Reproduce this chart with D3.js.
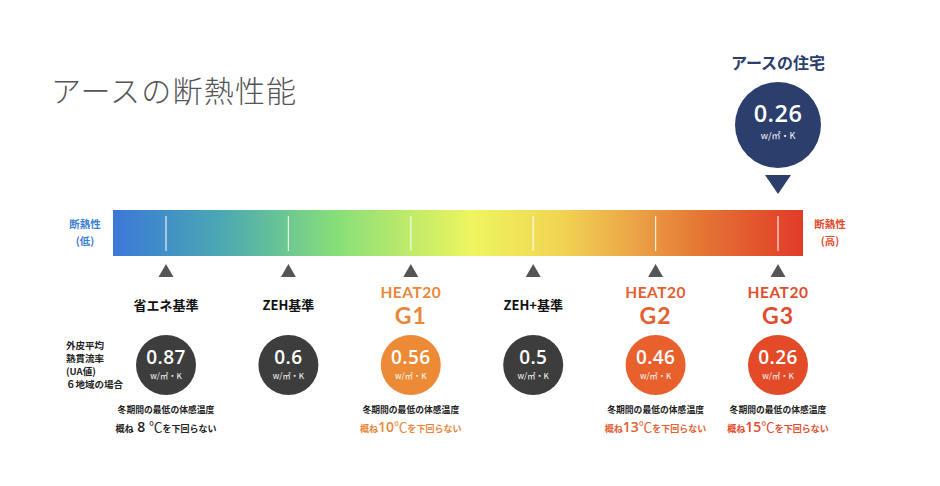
<!DOCTYPE html>
<html><head><meta charset="utf-8">
<script src="https://cdn.jsdelivr.net/npm/d3@7"></script>
<style>
body{margin:0;background:#fff;}
svg{display:block;font-family:"Noto Sans CJK JP","Noto Sans",sans-serif;}
</style></head>
<body>
<svg id="c" width="940" height="486"></svg>
<script>
// ---- data ----
const categories = ["省エネ基準","ZEH基準","HEAT20 G1","ZEH+基準","HEAT20 G2","HEAT20 G3"];
const labelTop   = ["","","HEAT20","","HEAT20","HEAT20"];
const labelMain  = ["省エネ基準","ZEH基準","G1","ZEH+基準","G2","G3"];
const uaValues   = [0.87, 0.6, 0.56, 0.5, 0.46, 0.26];
const minTemps   = [8, null, 10, null, 13, 15];
const earthValue = 0.26;
const earthIndex = 5;
const unitLabel  = "w/㎡・K";

// ---- styles ----
const kindColor = ["#3d3d3d","#3d3d3d","#ec8a36","#3d3d3d","#e8612d","#e34a27"];
const textColor = ["#222","#222","#e8873a","#222","#e3602f","#e04c2c"];
const latin = "Lato,'Open Sans',sans-serif";
const num = "'Open Sans',sans-serif";

const svg = d3.select("#c");
const barX0 = 113, barX1 = 803, barY = 210, barH = 46;
const x = d3.scalePoint().domain(categories).range([166, 778]);

// title
svg.append("text").attr("x",51).attr("y",102).attr("font-size",30).attr("fill","#555")
  .attr("font-weight",300).attr("letter-spacing",1.2).text("アースの断熱性能");

// gradient
const defs = svg.append("defs");
const grad = defs.append("linearGradient").attr("id","g").attr("x1","0%").attr("x2","100%");
const stops = [[0,"#3a78d8"],[0.16,"#4ba9b2"],[0.32,"#85de79"],[0.52,"#eef55e"],[0.65,"#f1d453"],[0.76,"#eba245"],[0.85,"#e57634"],[1,"#e13b28"]];
stops.forEach(s=>grad.append("stop").attr("offset",s[0]).attr("stop-color",s[1]));
svg.append("rect").attr("x",barX0).attr("y",barY).attr("width",barX1-barX0).attr("height",barH).attr("fill","url(#g)");

// tick lines on bar
svg.selectAll(".tk").data(categories).join("line")
  .attr("x1",d=>x(d)).attr("x2",d=>x(d)).attr("y1",barY+6).attr("y2",barY+barH-5)
  .attr("stroke","#fff").attr("stroke-opacity",0.85).attr("stroke-width",1.2);

// up triangles
svg.selectAll(".tri").data(categories).join("path")
  .attr("d",d=>`M${x(d)-7.5},277 L${x(d)+7.5},277 L${x(d)},264 Z`).attr("fill","#555");

// side labels
const side = (cx,lines,col)=>lines.forEach((t,i)=>svg.append("text").attr("x",cx).attr("y",228+i*17)
  .attr("text-anchor","middle").attr("font-size",10.5).attr("font-weight",700).attr("fill",col).text(t));
side(85,["断熱性","(低)"],"#3d7fd6");
side(830,["断熱性","(高)"],"#e1492b");

// labels
categories.forEach((c,i)=>{
  const cx = x(c);
  if(labelTop[i]){
    svg.append("text").attr("x",cx).attr("y",298).attr("text-anchor","middle").attr("font-size",15.5)
      .attr("font-weight",700).attr("letter-spacing",0.5).attr("fill",textColor[i]).attr("font-family",latin).text(labelTop[i]);
    svg.append("text").attr("x",cx).attr("y",324).attr("text-anchor","middle").attr("font-size",23)
      .attr("font-weight",700).attr("letter-spacing",1).attr("fill",textColor[i]).attr("font-family",latin).text(labelMain[i]);
  } else {
    svg.append("text").attr("x",cx).attr("y",310).attr("text-anchor","middle").attr("font-size",13)
      .attr("font-weight",700).attr("fill","#111").text(labelMain[i]);
  }
});

// circles
const cy = 365, r = 30;
const g = svg.selectAll(".cg").data(uaValues).join("g").attr("transform",(d,i)=>`translate(${x(categories[i])},${cy})`);
g.append("circle").attr("r",r).attr("fill",(d,i)=>kindColor[i]);
g.append("text").attr("y",-1).attr("text-anchor","middle").attr("font-size",19).attr("font-weight",600).attr("fill","#fff")
  .attr("font-family",num).attr("letter-spacing",0.4).text(d=>d);
g.append("text").attr("y",14).attr("text-anchor","middle").attr("font-size",8.2).attr("fill","#fff").text(unitLabel);

// left note
["外皮平均","熱貫流率","(UA値)","６地域の場合"].forEach((t,i)=>svg.append("text").attr("x",66).attr("y",349+i*13)
  .attr("font-size",9.5).attr("font-weight",700).attr("fill","#222").text(t));

// temperature notes
minTemps.forEach((t,i)=>{
  if(t===null) return;
  const cx = x(categories[i]);
  svg.append("text").attr("x",cx).attr("y",413).attr("text-anchor","middle").attr("font-size",8.8)
    .attr("font-weight",700).attr("fill","#222").text("冬期間の最低の体感温度");
  const col = i===0 ? "#222" : textColor[i];
  const tx = svg.append("text").attr("x",cx).attr("y",432).attr("text-anchor","middle").attr("fill",col).attr("font-weight",700);
  tx.append("tspan").attr("font-size",9).text("概ね");
  tx.append("tspan").attr("font-size",14).attr("font-weight",600).attr("font-family",num).text(i===0?" "+t+" ":t);
  tx.append("tspan").attr("font-size",13.5).attr("font-weight",400).text("℃");
  tx.append("tspan").attr("font-size",9).text("を下回らない");
});

// earth house
const ex = x(categories[earthIndex]);
svg.append("text").attr("x",ex).attr("y",69).attr("text-anchor","middle").attr("font-size",16)
  .attr("font-weight",700).attr("fill","#2c3f6c").text("アースの住宅");
svg.append("circle").attr("cx",ex).attr("cy",125).attr("r",43).attr("fill","#2c3f6c");
svg.append("text").attr("x",ex).attr("y",122).attr("text-anchor","middle").attr("font-size",23.5).attr("font-weight",600)
  .attr("letter-spacing",0.5).attr("fill","#fff").attr("font-family",num).text(earthValue);
svg.append("text").attr("x",ex).attr("y",139).attr("text-anchor","middle").attr("font-size",9).attr("fill","#fff").text(unitLabel);
svg.append("path").attr("d",`M${ex-13},175 L${ex+13},175 L${ex},194 Z`).attr("fill","#2c3f6c");
</script>
</body></html>
